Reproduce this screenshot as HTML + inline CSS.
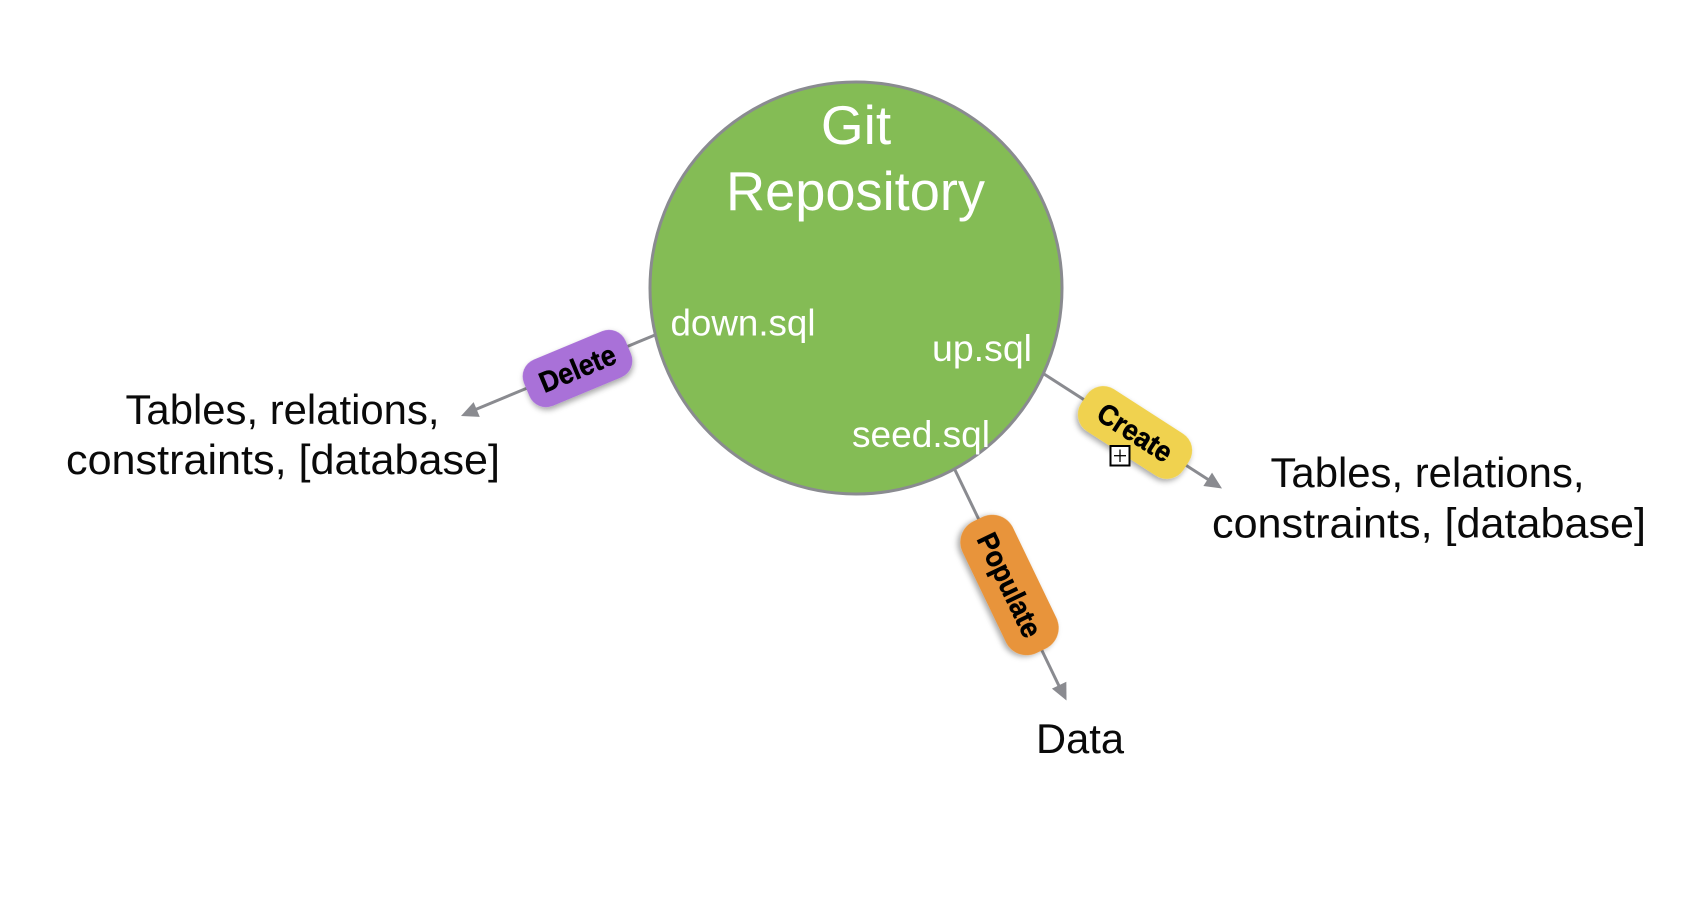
<!DOCTYPE html>
<html>
<head>
<meta charset="utf-8">
<style>
html,body{margin:0;padding:0;background:#fff;}
svg{display:block;}
text{font-family:"Liberation Sans",sans-serif;}
.w{fill:#fff;}
.k{fill:#0a0a0a;}
.b{fill:#000;stroke:#000;stroke-width:0.5px;font-weight:bold;font-size:29px;text-anchor:middle;}
</style>
</head>
<body>
<svg width="1700" height="908" viewBox="0 0 1700 908" xmlns="http://www.w3.org/2000/svg">
<defs>
<filter id="s" x="-30%" y="-50%" width="160%" height="200%">
<feDropShadow dx="0" dy="3" stdDeviation="3" flood-color="#000" flood-opacity="0.35"/>
</filter>
</defs>
<rect width="1700" height="908" fill="#fff"/>

<g stroke="#8a8b90" stroke-width="3" fill="none">
<line x1="655" y1="335" x2="472" y2="411"/>
<line x1="1044" y1="374" x2="1212" y2="482"/>
<line x1="955" y1="470" x2="1060" y2="688"/>
</g>
<g fill="#8a8b90">
<polygon transform="translate(461 416) rotate(157.4)" points="0,0 -17,-8 -17,8"/>
<polygon transform="translate(1222 488.5) rotate(32.8)" points="0,0 -17,-8 -17,8"/>
<polygon transform="translate(1066.5 700.5) rotate(64.3)" points="0,0 -17,-8 -17,8"/>
</g>

<circle cx="856" cy="288" r="206" fill="#84bc55" stroke="#8a8b90" stroke-width="3"/>

<text class="w" x="856" y="144" font-size="55" text-anchor="middle">Git</text>
<text class="w" x="726" y="210" font-size="55" textLength="259" lengthAdjust="spacingAndGlyphs">Repository</text>
<text class="w" x="670.5" y="335.5" font-size="37" textLength="145" lengthAdjust="spacingAndGlyphs">down.sql</text>
<text class="w" x="932" y="361" font-size="37" textLength="100" lengthAdjust="spacingAndGlyphs">up.sql</text>
<text class="w" x="852" y="447" font-size="37" textLength="138" lengthAdjust="spacingAndGlyphs">seed.sql</text>

<g transform="translate(577.5 368.5) rotate(-22.6)">
<rect x="-55" y="-25" width="110" height="50" rx="18" ry="18" fill="#a971d8" filter="url(#s)"/>
<text class="b" x="0" y="10" textLength="80" lengthAdjust="spacingAndGlyphs">Delete</text>
</g>

<g transform="translate(1135 432.5) rotate(32.8)">
<rect x="-61" y="-25" width="122" height="50" rx="20" ry="20" fill="#f0d24f" filter="url(#s)"/>
<text class="b" x="0" y="10" textLength="83" lengthAdjust="spacingAndGlyphs">Create</text>
</g>

<g transform="translate(1009.5 585) rotate(64.3)">
<rect x="-73" y="-28" width="146" height="56" rx="23" ry="23" fill="#e8943a" filter="url(#s)"/>
<text class="b" x="0" y="10" textLength="112" lengthAdjust="spacingAndGlyphs">Populate</text>
</g>

<rect x="1110.5" y="446" width="19" height="19.5" fill="#fff" stroke="#000" stroke-width="2"/>
<line x1="1114" y1="455.7" x2="1126" y2="455.7" stroke="#000" stroke-width="1.3"/>
<line x1="1120" y1="449.5" x2="1120" y2="462" stroke="#000" stroke-width="1.3"/>

<text class="k" x="125.5" y="424" font-size="42" textLength="314" lengthAdjust="spacingAndGlyphs">Tables, relations,</text>
<text class="k" x="66" y="474" font-size="42" textLength="434" lengthAdjust="spacingAndGlyphs">constraints, [database]</text>
<text class="k" x="1270.5" y="487" font-size="42" textLength="314" lengthAdjust="spacingAndGlyphs">Tables, relations,</text>
<text class="k" x="1212" y="537.5" font-size="42" textLength="434" lengthAdjust="spacingAndGlyphs">constraints, [database]</text>
<text class="k" x="1036" y="753" font-size="42" textLength="88" lengthAdjust="spacingAndGlyphs">Data</text>
</svg>
</body>
</html>
